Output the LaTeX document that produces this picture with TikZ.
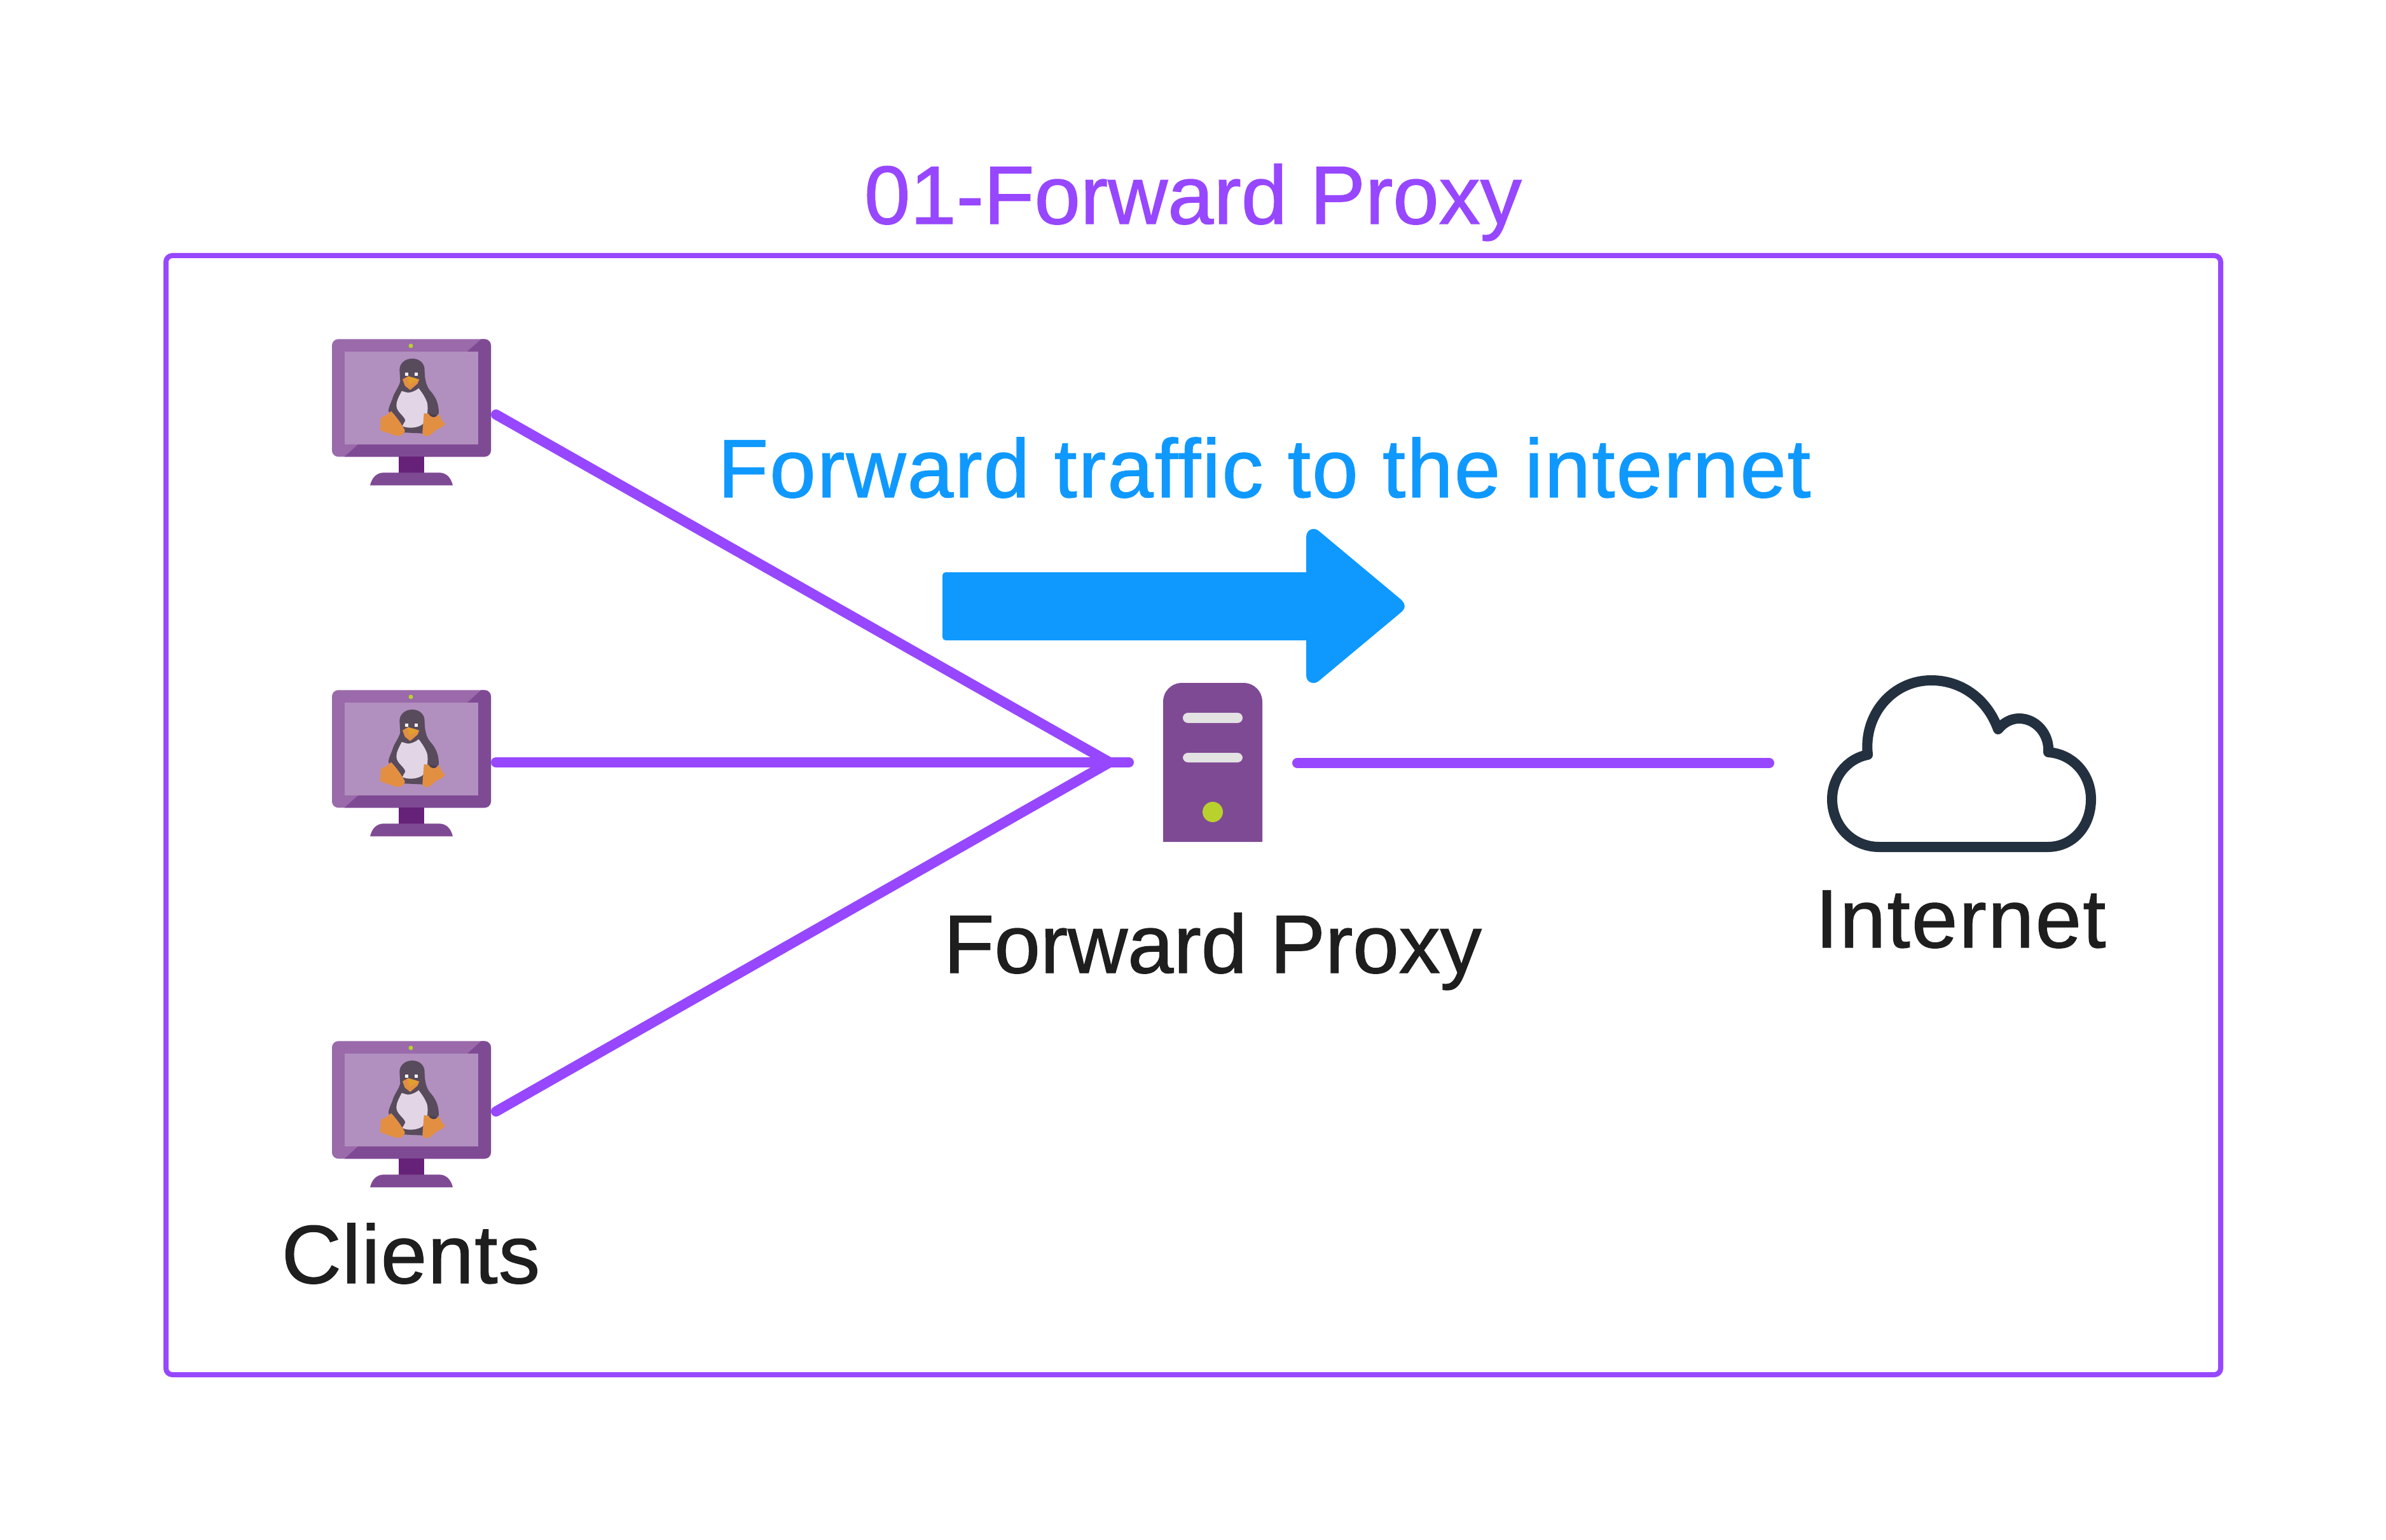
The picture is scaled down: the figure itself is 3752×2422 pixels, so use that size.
\documentclass[tikz,border=0pt]{standalone}
\usepackage{fontspec}
\setmainfont{Liberation Sans}[FakeBold=1]
\newfontfamily\widefont{Liberation Sans}[FakeBold=1,LetterSpace=1.7]
\newfontfamily\midfont{Liberation Sans}[FakeBold=1,LetterSpace=1.1]
\definecolor{linep}{HTML}{9747FF}
\definecolor{arrowb}{HTML}{0F99FF}
\definecolor{monl}{HTML}{9A6AAA}
\definecolor{mond}{HTML}{7F4A94}
\definecolor{scr}{HTML}{B18FBF}
\definecolor{stand}{HTML}{662178}
\definecolor{ledg}{HTML}{B8D12D}
\definecolor{cloudc}{HTML}{233040}
\definecolor{txt}{HTML}{1E1E1E}
\definecolor{pdark}{HTML}{574B5C}
\definecolor{pbelly}{HTML}{E2D6E6}
\definecolor{porange}{HTML}{E38F42}
\definecolor{pbeak}{HTML}{E0A030}
\tikzset{
 conn/.style={draw=linep,line width=0.16cm,line cap=round,line join=round},
 lbl/.style={inner sep=0,anchor=base,text=txt,font=\fontsize{37}{40}\selectfont},
 blbl/.style={inner sep=0,anchor=base,text=arrowb,font=\fontsize{37}{40}\selectfont},
 tlbl/.style={inner sep=0,anchor=base,text=linep,font=\fontsize{37}{40}\selectfont},
 pics/linuxpc/.style={code={
  \fill[monl] (96,130) arc[start angle=180,end angle=270,radius=30] -- (816,100) arc[start angle=-90,end angle=0,radius=30] -- (846,625) arc[start angle=0,end angle=90,radius=30] -- (126,655) arc[start angle=90,end angle=180,radius=30] -- cycle;
  \fill[mond] (800,100) -- (816,100) arc[start angle=-90,end angle=0,radius=30] -- (846,625) arc[start angle=0,end angle=90,radius=30] -- (155,655) -- (220,596) -- (786,596) -- (786,160) -- (733,160) -- cycle;
  \fill[scr] (156,160) rectangle (786,596);
  \fill[ledg] (468,132) circle[radius=10.5];
  \fill[stand] (411,655) rectangle (531,732);
  \fill[mond] (276,790) .. controls (285,750) and (310,730) .. (340,730) -- (602,730) .. controls (632,730) and (657,750) .. (666,790) -- cycle;
  \fill[pdark] (475,192) .. controls (440,192) and (415,215) .. (415,245) -- (418,300) .. controls (412,325) and (395,345) .. (385,370) .. controls (378,395) and (362,420) .. (363,440) -- (420,540) -- (525,545) -- (600,450) .. controls (600,410) and (590,380) .. (565,350) .. controls (545,330) and (533,300) .. (533,245) .. controls (533,215) and (510,192) .. (475,192) -- cycle;
  \fill[pbelly] (425,345) .. controls (410,375) and (395,400) .. (402,425) .. controls (410,450) and (440,465) .. (442,485) -- (428,510) .. controls (450,522) and (500,522) .. (526,500) .. controls (545,480) and (552,430) .. (545,400) .. controls (535,370) and (515,345) .. (505,332) .. controls (490,345) and (465,355) .. (450,352) -- cycle;
  \fill[porange] (375,440) .. controls (395,460) and (425,500) .. (440,530) .. controls (438,552) and (415,562) .. (395,555) .. controls (370,545) and (340,538) .. (322,528) .. controls (330,505) and (320,480) .. (330,468) .. controls (345,465) and (360,455) .. (375,440) -- cycle;
  \fill[porange] (530,450) -- (552,452) .. controls (570,475) and (590,470) .. (603,455) .. controls (610,475) and (615,490) .. (630,498) .. controls (625,515) and (600,520) .. (585,530) .. controls (570,545) and (555,560) .. (540,558) .. controls (530,558) and (525,550) .. (523,540) -- cycle;
  \fill[pdark!85!black] (552,452) .. controls (565,475) and (585,470) .. (590,458) -- cycle;
  \fill[porange] (429,290) -- (455,275) -- (508,290) -- (500,310) -- (465,340) -- (440,320) -- cycle;
  \fill[pbeak] (455,275) -- (490,285) -- (500,295) -- (460,315) -- cycle;
  \fill[white] (441,258) rectangle (456,273);
  \fill[white] (485,258) rectangle (501,273);
 }}
}
\begin{document}
\begin{tikzpicture}[x=0.01cm,y=-0.01cm]
\useasboundingbox (0,0) rectangle (3752,2422);
\fill[white] (0,0) rectangle (3752,2422);
\node[tlbl] (title) at (1876,352) {01-Forward Proxy};
\draw[draw=linep,line width=0.08cm,rounded corners=0.1cm] (261,402) rectangle (3492,2162);
\foreach \dy in {0,552,1104}{
 \begin{scope}[shift={(490,500+\dy)},x=0.01cm/3,y=-0.01cm/3]
  \pic {linuxpc};
 \end{scope}
}
\coordinate (c1) at (780,652);
\coordinate (c2) at (780,1199);
\coordinate (c3) at (780,1748);
\coordinate (hub) at (1745,1199);
\coordinate (hubend) at (1775,1199);
\coordinate (pr) at (2040,1200);
\coordinate (inet) at (2782,1200);
\draw[conn] (c1) -- (hub);
\draw[conn] (c2) -- (hubend);
\draw[conn] (c3) -- (hub);
\draw[conn] (pr) -- (inet);
\fill[arrowb] (1482,905) arc[start angle=180,end angle=270,radius=5] -- (2054,900) -- (2054,845) .. controls (2054,832) and (2067,828) .. (2075,836) -- (2202,942) .. controls (2211,950) and (2211,957) .. (2202,964) -- (2075,1070) .. controls (2067,1078) and (2054,1074) .. (2054,1062) -- (2054,1007) -- (1487,1007) arc[start angle=90,end angle=180,radius=5] -- cycle;
\node[blbl] (fwd) at (1988,782) {\widefont Forward traffic to the internet};
\fill[mond] (1829,1324) -- (1829,1104) .. controls (1829,1087) and (1842,1074) .. (1859,1074) -- (1955,1074) .. controls (1972,1074) and (1985,1087) .. (1985,1104) -- (1985,1324) -- cycle;
\fill[white!89!black,rounded corners=0.08cm] (1860,1121) rectangle (1954,1137);
\fill[white!89!black,rounded corners=0.08cm] (1860,1184) rectangle (1954,1199);
\fill[ledg] (1907,1277) circle[radius=16];
\draw[draw=cloudc,line width=0.16cm,line cap=round,line join=round] (2955,1332) .. controls (2913,1332) and (2881,1299) .. (2881,1257) .. controls (2881,1222) and (2905,1193) .. (2937,1187) .. controls (2930,1125) and (2975,1070) .. (3037,1070) .. controls (3085,1070) and (3125,1100) .. (3142,1147) .. controls (3150,1137) and (3162,1130) .. (3175,1130) .. controls (3202,1130) and (3223,1155) .. (3221,1183) .. controls (3260,1186) and (3288,1218) .. (3288,1257) .. controls (3288,1299) and (3260,1332) .. (3220,1332) -- cycle;
\node[lbl] (proxy) at (1907,1530) {Forward Proxy};
\node[lbl] (net) at (3083,1490) {\widefont Internet};
\node[lbl] (cli) at (646,2018) {\midfont Clients};
\end{tikzpicture}
\end{document}
